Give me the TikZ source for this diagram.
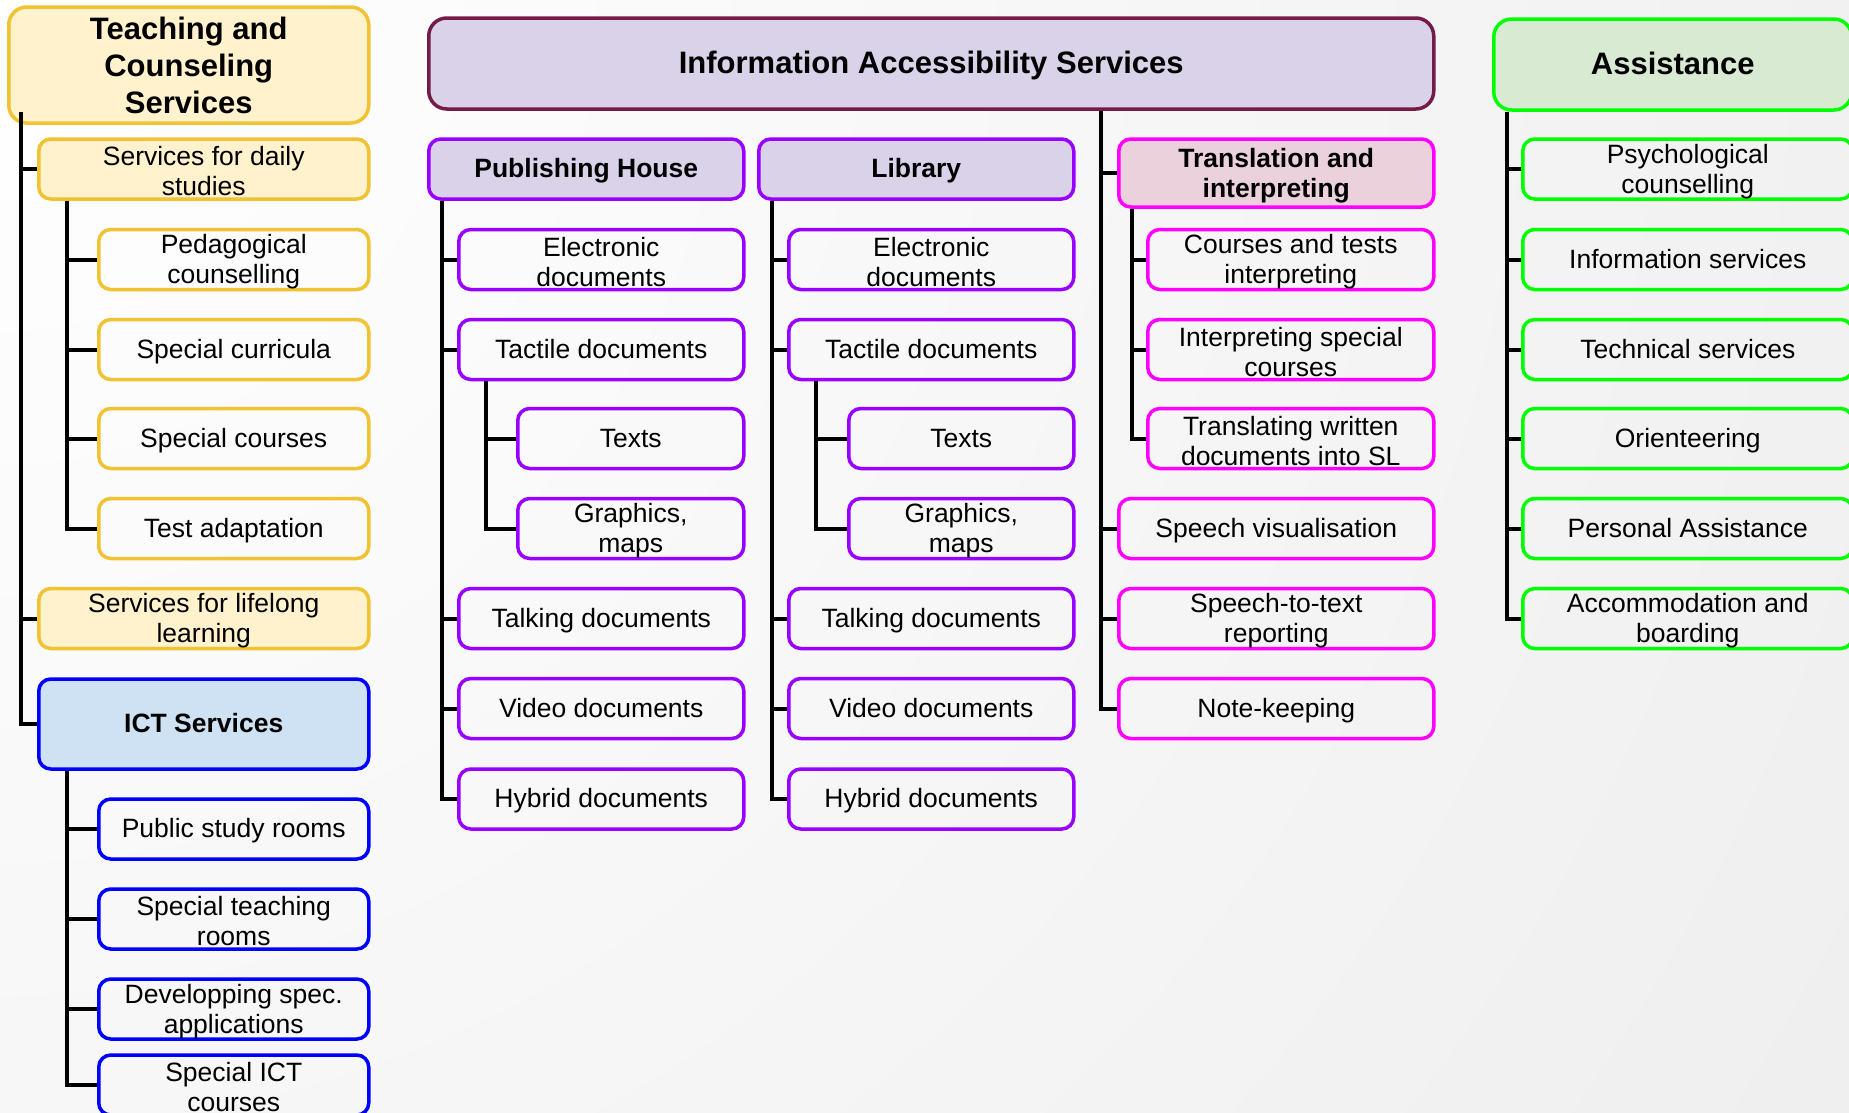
\documentclass[tikz,border=0pt]{standalone}
\usepackage{fontspec}
\setmainfont{Liberation Sans}
\usetikzlibrary{calc}

\definecolor{teachfill}{HTML}{FFF2CC}
\definecolor{teachline}{HTML}{F1C232}
\definecolor{infofill}{HTML}{D9D2E9}
\definecolor{infoline}{HTML}{741B47}
\definecolor{publine}{HTML}{9900FF}
\definecolor{transfill}{HTML}{EAD1DC}
\definecolor{transline}{HTML}{FF00FF}
\definecolor{ictfill}{HTML}{CFE2F3}
\definecolor{ictline}{HTML}{0000FF}
\definecolor{assfill}{HTML}{D9EAD3}
\definecolor{assline}{HTML}{00FF00}

\newcommand{\boxstrut}{\rule[-0.23em]{0pt}{1.13em}}

\begin{document}
\begin{tikzpicture}[x=1pt, y=-1pt,
  basebox/.style={draw, rounded corners=12pt, line width=3.5pt, align=flush center, inner sep=0pt, anchor=west},
  wd/.style={minimum width=#1, text width=#1},
  box/.style={basebox, minimum height=60pt, font=\fontsize{26.5}{30}\selectfont,
    execute at begin node=\boxstrut},
  headbox/.style={box, font=\bfseries\fontsize{26.5}{30}\selectfont},
  mainbox/.style={basebox, rounded corners=18pt, minimum height=91pt, font=\bfseries\fontsize{31}{37}\selectfont},
  conn/.style={line width=4pt}]

\def\rowa{169}; % second level heads
\def\rowb{259.5};
\def\rowc{349.5};
\def\rowd{438.5};
\def\rowe{528.5};
\def\rowf{618.5};
\def\rowg{708.5};
\def\rowh{799};

\clip (0,0) rectangle (1849,1112);
\shade[inner color=white, outer color=black!13] (0,0) circle (4400pt);

% teaching and counseling
\node[mainbox, draw=teachline, fill=teachfill, wd=360pt, minimum height=116pt] (teach) at (7,65) {Teaching and\\Counseling\\Services};
\node[box, draw=teachline, fill=teachfill, wd=330pt] (daily) at (37,\rowa) {Services for daily\\studies};
\node[box, draw=teachline, wd=270pt] (ped) at (97,\rowb) {Pedagogical\\counselling};
\node[box, draw=teachline, wd=270pt] (scur) at (97,\rowc) {Special curricula};
\node[box, draw=teachline, wd=270pt] (scou) at (97,\rowd) {Special courses};
\node[box, draw=teachline, wd=270pt] (tadap) at (97,\rowe) {Test adaptation};
\node[box, draw=teachline, fill=teachfill, wd=330pt] (life) at (37,\rowf) {Services for lifelong\\learning};
\node[headbox, draw=ictline, fill=ictfill, wd=330pt, minimum height=90pt] (ict) at (37,724) {ICT Services};
\node[box, draw=ictline, wd=270pt] (psr) at (97,829) {Public study rooms};
\node[box, draw=ictline, wd=270pt] (str) at (97,919) {Special teaching\\rooms};
\node[box, draw=ictline, wd=270pt] (dsa) at (97,1009) {Developping spec.\\applications};
\node[box, draw=ictline, wd=270pt] (sict) at (97,1085) {Special ICT\\courses};

% information accessibility
\node[mainbox, draw=infoline, fill=infofill, wd=1005pt, execute at begin node=\boxstrut] (info) at (427,63.5) {Information Accessibility Services};
\node[headbox, draw=publine, fill=infofill, wd=315pt] (pub) at (427,\rowa) {Publishing House};
\node[box, draw=publine, wd=285pt] (pElec) at (457,\rowb) {Electronic\\documents};
\node[box, draw=publine, wd=285pt] (pTact) at (457,\rowc) {Tactile documents};
\node[box, draw=publine, wd=226pt] (pText) at (516,\rowd) {Texts};
\node[box, draw=publine, wd=226pt] (pGraph) at (516,\rowe) {Graphics,\\maps};
\node[box, draw=publine, wd=285pt] (pTalk) at (457,\rowf) {Talking documents};
\node[box, draw=publine, wd=285pt] (pVid) at (457,\rowg) {Video documents};
\node[box, draw=publine, wd=285pt] (pHyb) at (457,\rowh) {Hybrid documents};

\node[headbox, draw=publine, fill=infofill, wd=315pt] (lib) at (757,\rowa) {Library};
\node[box, draw=publine, wd=285pt] (lElec) at (787,\rowb) {Electronic\\documents};
\node[box, draw=publine, wd=285pt] (lTact) at (787,\rowc) {Tactile documents};
\node[box, draw=publine, wd=225pt] (lText) at (847,\rowd) {Texts};
\node[box, draw=publine, wd=225pt] (lGraph) at (847,\rowe) {Graphics,\\maps};
\node[box, draw=publine, wd=285pt] (lTalk) at (787,\rowf) {Talking documents};
\node[box, draw=publine, wd=285pt] (lVid) at (787,\rowg) {Video documents};
\node[box, draw=publine, wd=285pt] (lHyb) at (787,\rowh) {Hybrid documents};

\node[headbox, draw=transline, fill=transfill, wd=315pt, minimum height=68pt] (trans) at (1117,173) {Translation and\\interpreting};
\node[box, draw=transline, wd=286pt] (tCour) at (1146,\rowb) {Courses and tests\\interpreting};
\node[box, draw=transline, wd=286pt] (tSpec) at (1146,\rowc) {Interpreting special\\courses};
\node[box, draw=transline, wd=286pt] (tWrit) at (1146,\rowd) {Translating written\\documents into SL};
\node[box, draw=transline, wd=315pt] (sVis) at (1117,\rowe) {Speech visualisation};
\node[box, draw=transline, wd=315pt] (sTxt) at (1117,\rowf) {Speech-to-text\\reporting};
\node[box, draw=transline, wd=315pt] (note) at (1117,\rowg) {Note-keeping};

% assistance
\node[mainbox, draw=assline, fill=assfill, wd=358pt, execute at begin node=\boxstrut] (assist) at (1492,64.5) {Assistance};
\node[box, draw=assline, wd=330pt] (psych) at (1521,\rowa) {Psychological\\counselling};
\node[box, draw=assline, wd=330pt] (infs) at (1521,\rowb) {Information services};
\node[box, draw=assline, wd=330pt] (tech) at (1521,\rowc) {Technical services};
\node[box, draw=assline, wd=330pt] (orient) at (1521,\rowd) {Orienteering};
\node[box, draw=assline, wd=330pt] (pers) at (1521,\rowe) {Personal Assistance};
\node[box, draw=assline, wd=330pt] (accom) at (1521,\rowf) {Accommodation and\\boarding};

% trunks
\coordinate (tTeach) at ($(teach.south west)+(14,-13)$);
\coordinate (tDaily) at ($(daily.south west)+(30,0)$);
\coordinate (tIct) at ($(ict.south west)+(30,0)$);
\coordinate (tPub) at ($(pub.south west)+(15,0)$);
\coordinate (tPTact) at ($(pTact.south west)+(29,0)$);
\coordinate (tLib) at ($(lib.south west)+(15,0)$);
\coordinate (tLTact) at ($(lTact.south west)+(29,0)$);
\coordinate (tInfo) at ($(info.south -| trans.west)+(-16,0)$);
\coordinate (tTrans) at ($(trans.south west)+(15,0)$);
\coordinate (tAssist) at ($(assist.south west)+(15,0)$);

\foreach \c in {daily,life,ict} \draw[conn] (tTeach) |- (\c.west);
\foreach \c in {ped,scur,scou,tadap} \draw[conn] (tDaily) |- (\c.west);
\foreach \c in {psr,str,dsa,sict} \draw[conn] (tIct) |- (\c.west);
\foreach \c in {pElec,pTact,pTalk,pVid,pHyb} \draw[conn] (tPub) |- (\c.west);
\foreach \c in {pText,pGraph} \draw[conn] (tPTact) |- (\c.west);
\foreach \c in {lElec,lTact,lTalk,lVid,lHyb} \draw[conn] (tLib) |- (\c.west);
\foreach \c in {lText,lGraph} \draw[conn] (tLTact) |- (\c.west);
\foreach \c in {trans,sVis,sTxt,note} \draw[conn] (tInfo) |- (\c.west);
\foreach \c in {tCour,tSpec,tWrit} \draw[conn] (tTrans) |- (\c.west);
\foreach \c in {psych,infs,tech,orient,pers,accom} \draw[conn] (tAssist) |- (\c.west);

\end{tikzpicture}
\end{document}
